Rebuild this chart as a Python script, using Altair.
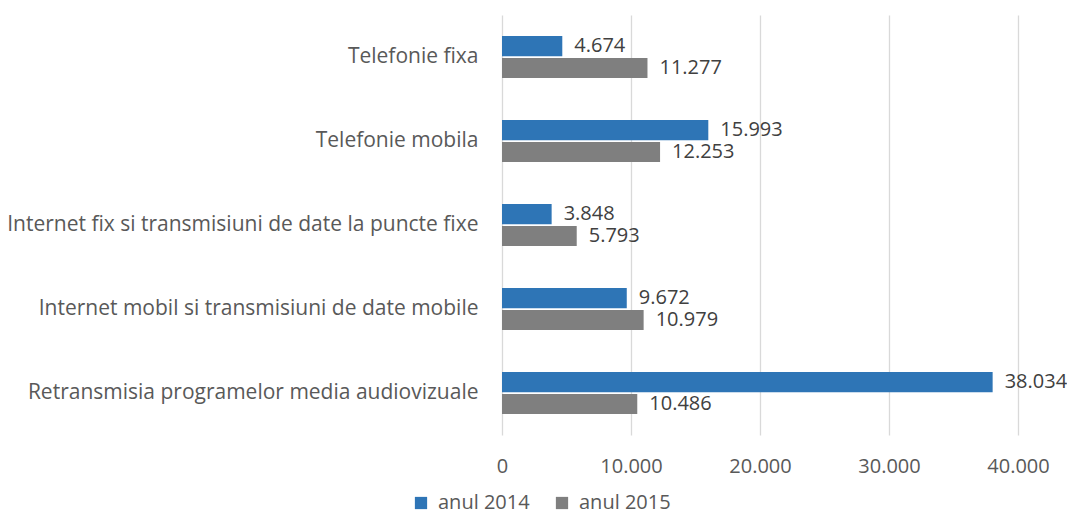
import altair as alt
import pandas as pd

categories = [
    "Telefonie fixa",
    "Telefonie mobila",
    "Internet fix si transmisiuni de date la puncte fixe",
    "Internet mobil si transmisiuni de date mobile",
    "Retransmisia programelor media audiovizuale",
]
series = ["anul 2014", "anul 2015"]
values_2014 = [4674, 15993, 3848, 9672, 38034]
values_2015 = [11277, 12253, 5793, 10979, 10486]

rows = []
for c, a, b in zip(categories, values_2014, values_2015):
    rows.append({"cat": c, "serie": series[0], "v": a})
    rows.append({"cat": c, "serie": series[1], "v": b})
df = pd.DataFrame(rows)

FONT = "Open Sans"
color = alt.Color(
    "serie:N",
    scale=alt.Scale(domain=series, range=["#2E75B6", "#7F7F7F"]),
    legend=alt.Legend(
        title=None, orient="none", legendX=-91, legendY=478, direction="horizontal",
        symbolType="square", symbolSize=150, symbolStrokeWidth=0,
        labelFont=FONT, labelFontSize=20, labelColor="#595959", columnPadding=22,
        labelOffset=7,
    ),
)

y = alt.Y(
    "cat:N", sort=categories, title=None,
    scale=alt.Scale(paddingInner=0.5, paddingOuter=0.25),
    axis=alt.Axis(domain=False, ticks=False, labelPadding=24, labelFont=FONT,
                  labelFontSize=21, labelColor="#595959", labelLimit=600),
)
yoff = alt.YOffset("serie:N", sort=series, scale=alt.Scale(paddingInner=0.08))
x = alt.X(
    "v:Q", title=None,
    scale=alt.Scale(domain=[0, 40000], nice=False),
    axis=alt.Axis(values=[0, 10000, 20000, 30000, 40000], domain=False, ticks=False,
                  gridColor="#D9D9D9", gridWidth=1.3, labelPadding=21, labelFont=FONT,
                  labelFontSize=20, labelColor="#595959", labelFlush=False,
                  labelExpr="replace(format(datum.value, ','), ',', '.')"),
)

base = alt.Chart(df).encode(y=y, yOffset=yoff)
bars = base.mark_bar().encode(x=x, color=color)
labels = base.transform_calculate(
    lab="replace(format(datum.v, ','), ',', '.')"
).mark_text(align="left", baseline="middle", dx=12, font=FONT, fontSize=20,
            color="#404040").encode(x="v:Q", text="lab:N")

chart = (bars + labels).properties(
    width=516, height=420,
    autosize=alt.AutoSizeParams(type="none"),
    padding={"left": 494, "top": 7, "right": 49, "bottom": 80},
).configure_view(stroke=None)

chart.save("out.html", embed_options={"renderer": "svg", "actions": False})
